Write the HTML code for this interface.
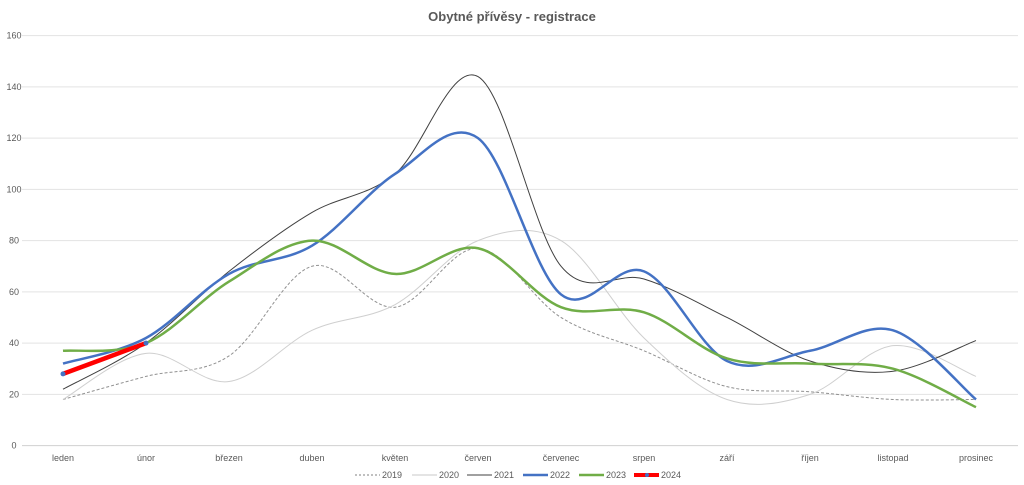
<!DOCTYPE html>
<html><head><meta charset="utf-8"><style>
body{margin:0;background:#fff}
svg{display:block;font-family:"Liberation Sans",sans-serif}
</style></head><body>
<svg id="c" width="1024" height="485" xmlns="http://www.w3.org/2000/svg">
<text x="512" y="21" text-anchor="middle" font-size="13" font-weight="bold" fill="#595959">Obytné přívěsy - registrace</text>
<g id="grid"></g>
<g id="series"></g>
<g font-size="9" fill="#595959">
<line x1="355" y1="475" x2="380" y2="475" stroke="#808080" stroke-dasharray="2,2"/><text x="382" y="478">2019</text>
<line x1="412" y1="475" x2="437" y2="475" stroke="#c8c8c8"/><text x="439" y="478">2020</text>
<line x1="467" y1="475" x2="492" y2="475" stroke="#404040"/><text x="494" y="478">2021</text>
<line x1="523" y1="475" x2="548" y2="475" stroke="#4472c4" stroke-width="2.5"/><text x="550" y="478">2022</text>
<line x1="579" y1="475" x2="604" y2="475" stroke="#70ad47" stroke-width="2.5"/><text x="606" y="478">2023</text>
<line x1="634" y1="475" x2="659" y2="475" stroke="#ff0000" stroke-width="4"/><circle cx="647" cy="475" r="2" fill="#4472c4"/><text x="661" y="478">2024</text>
</g>
</svg>
<script>
const ns="http://www.w3.org/2000/svg";
const g=document.getElementById('grid'),s=document.getElementById('series');
const Y=v=>445.6-v*2.5625, X=i=>63+i*83;
let h='';
for(let v=0;v<=160;v+=20){h+=`<line x1="22" x2="1018" y1="${Y(v)}" y2="${Y(v)}" stroke="${v?'#e3e3e3':'#d0d0d0'}"/><text x="14" y="${Y(v)+3}" font-size="9" fill="#595959" text-anchor="middle">${v}</text>`}
const m=['leden','únor','březen','duben','květen','červen','červenec','srpen','září','říjen','listopad','prosinec'];
m.forEach((t,i)=>h+=`<text x="${X(i)}" y="461" font-size="9" fill="#595959" text-anchor="middle">${t}</text>`);
g.innerHTML=h;
function path(d){const p=d.map((v,i)=>[X(i),Y(v)]);let r=`M${p[0]}`;
for(let i=0;i<p.length-1;i++){const a=p[i-1]||p[i],b=p[i],c=p[i+1],e=p[i+2]||c;
const c1=[b[0]+(c[0]-a[0])/6,b[1]+(c[1]-a[1])/6],c2=[c[0]-(e[0]-b[0])/6,c[1]-(e[1]-b[1])/6];
r+=` C${c1} ${c2} ${c}`}return r}
const S=[
[[18,27,35,70,54,77,50,37,23,21,18,18],'#909090',1,'3,2'],
[[18,36,25,45,55,80,80,42,18,20,39,27],'#cfcfcf',1,''],
[[22,40,68,91,106,144,70,65,50,33,29,41],'#404040',1,''],
[[32,42,67,78,106,120,59,68,33,37,45,18],'#4472c4',2.5,''],
[[37,40,64,80,67,77,54,52,34,32,30,15],'#70ad47',2.5,''],
[[28,40],'#ff0000',4.5,'']];
let o='';
S.forEach(([d,c,w,da])=>o+=`<path d="${path(d)}" fill="none" stroke="${c}" stroke-width="${w}" ${da?`stroke-dasharray="${da}"`:''}/>`);
o+=`<circle cx="${X(0)}" cy="${Y(28)}" r="2.5" fill="#4472c4"/><circle cx="${X(1)}" cy="${Y(40)}" r="2.5" fill="#4472c4"/>`;
s.innerHTML=o;
</script>
</body></html>
